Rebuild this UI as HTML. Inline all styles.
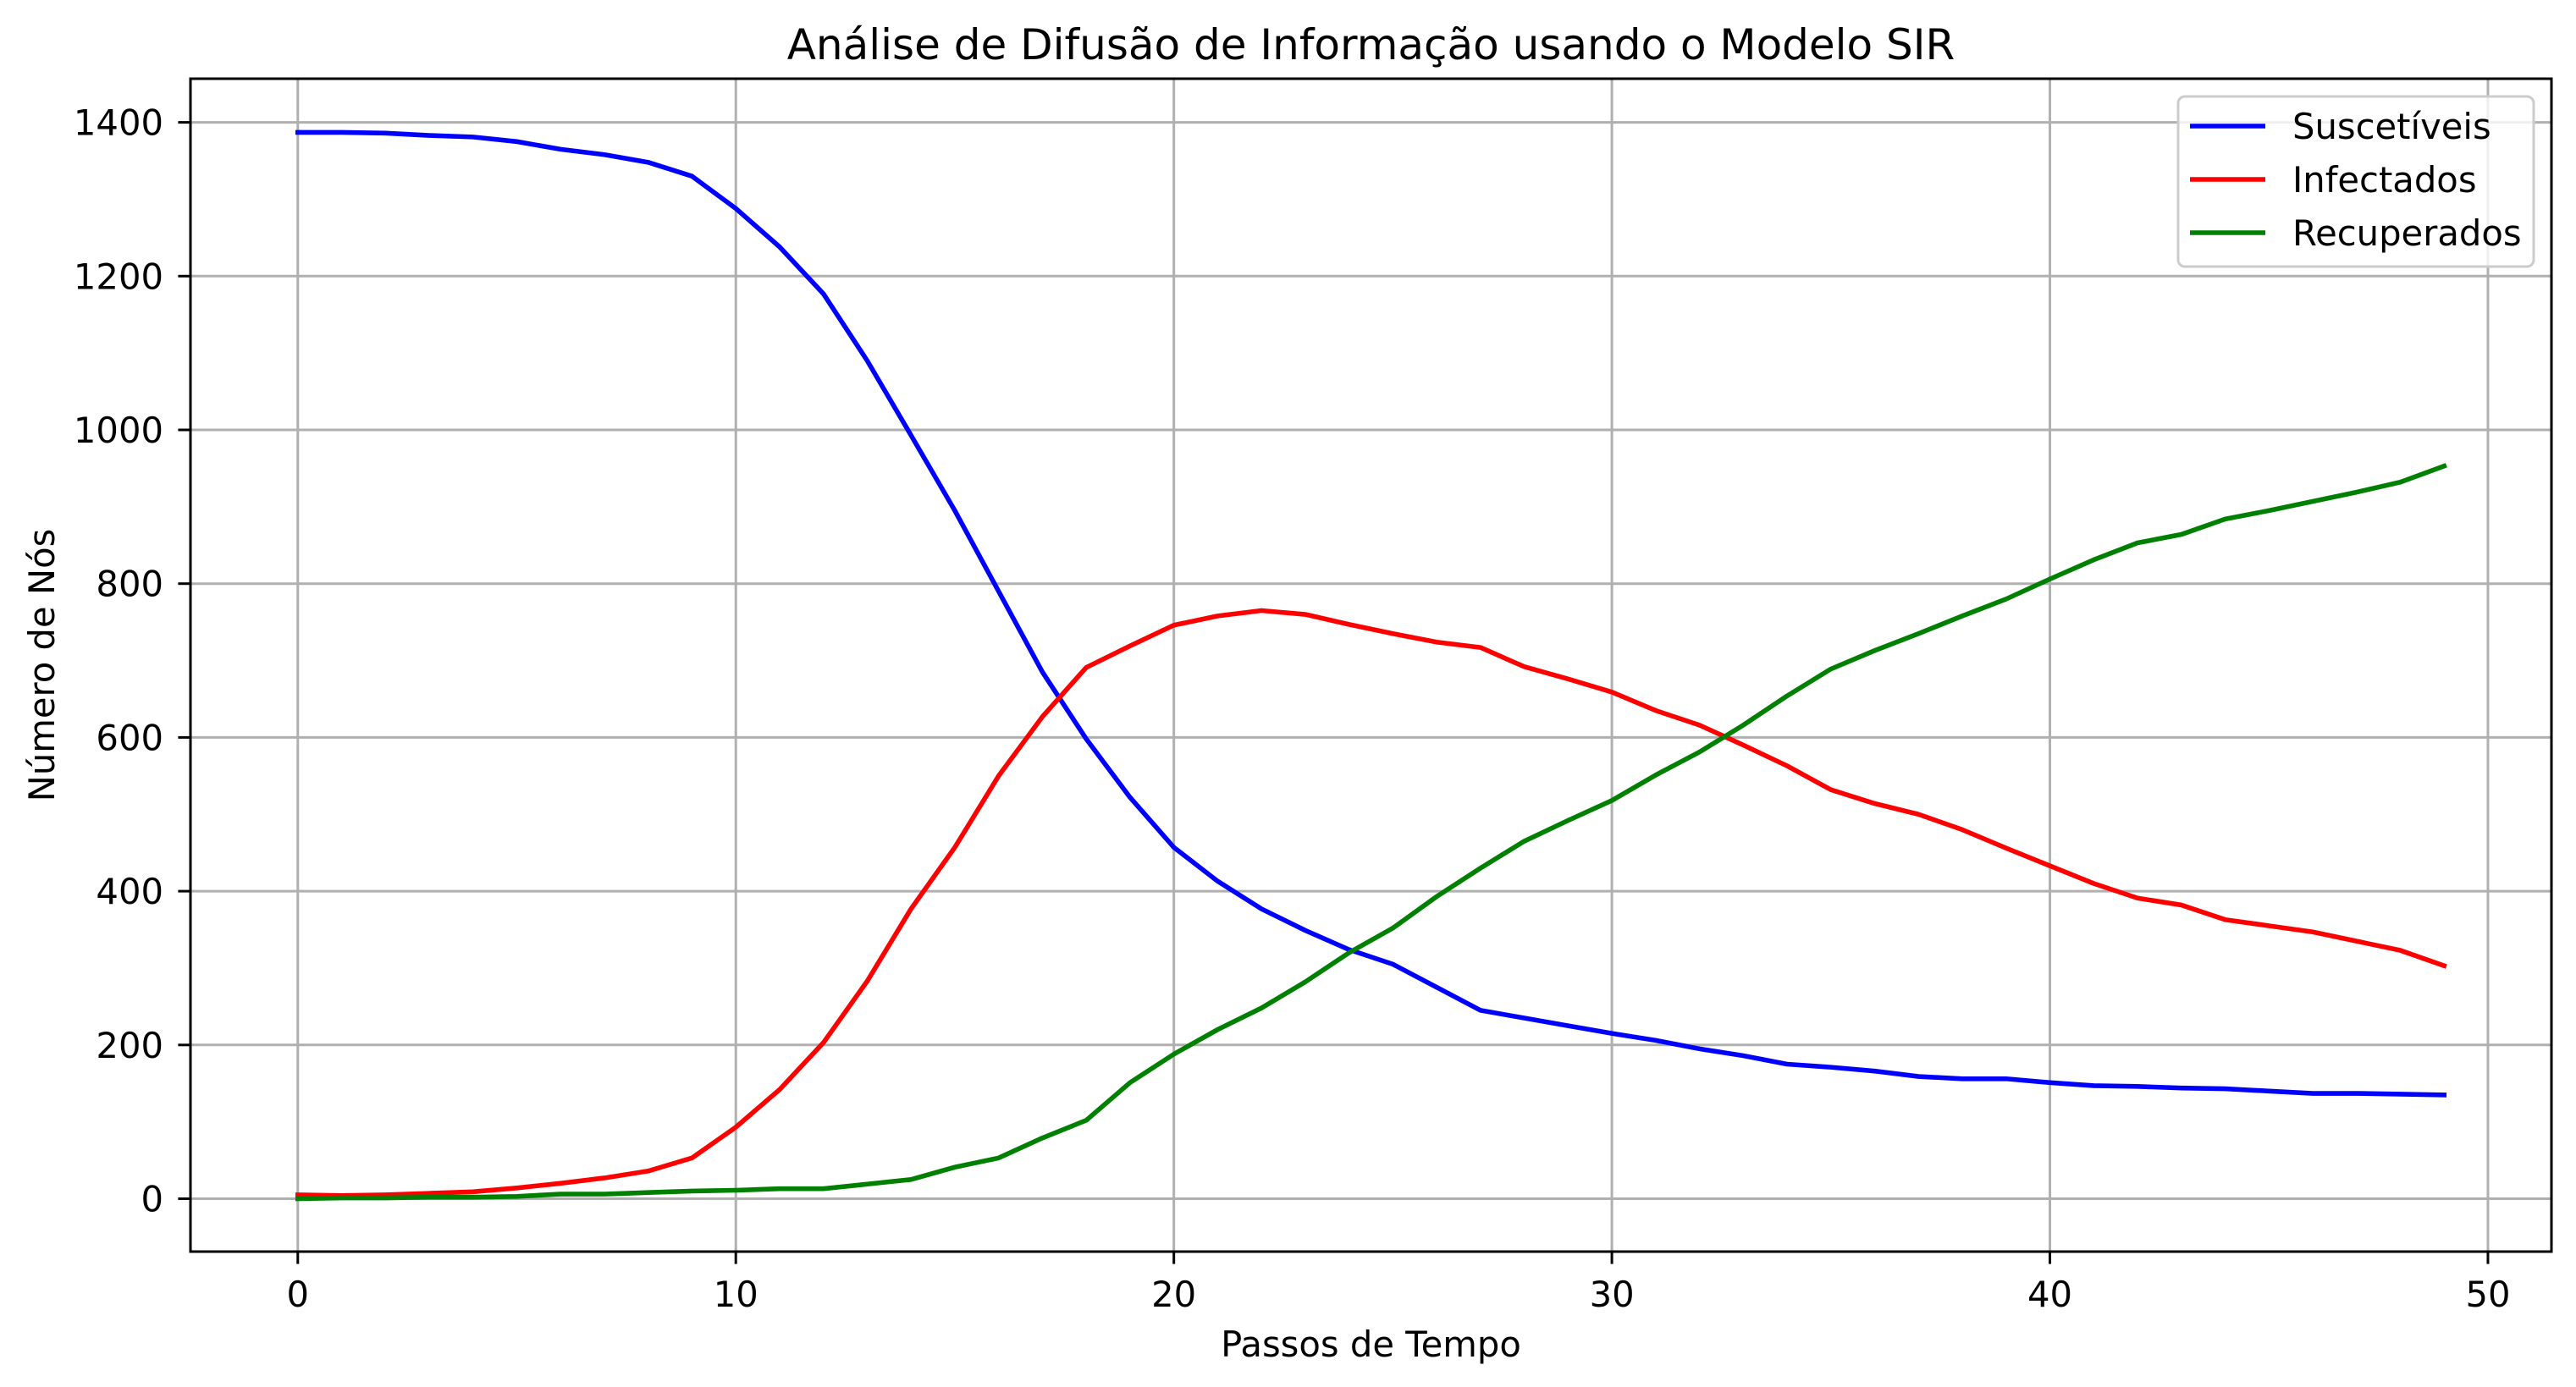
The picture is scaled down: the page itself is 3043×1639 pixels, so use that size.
<!DOCTYPE html>
<html><head><meta charset="utf-8"><style>
html,body{margin:0;padding:0;background:#fff}
svg{display:block}
text{font-family:"DejaVu Sans","Liberation Sans",sans-serif;fill:#000}
</style></head><body>
<svg id="chart" width="3043" height="1639" viewBox="0 0 3043 1639" xmlns="http://www.w3.org/2000/svg">
<rect width="3043" height="1639" fill="#fff"/>
<g id="grid"></g><g id="series"></g><g id="axes"></g><g id="legend"></g>
</svg>
<script>
const steps = Array.from({length:50},(_,i)=>i);
const suscetiveis = [1387,1387,1386,1383,1381,1375,1365,1358,1348,1330,1288,1238,1177,1090,993,895,790,685,598,522,457,413,377,349,324,305,275,245,235,225,215,206,195,186,175,171,166,159,156,156,151,147,146,144,143,140,137,137,136,135];
const infectados = [5,4,5,7,9,14,20,27,36,53,93,142,203,283,377,457,550,627,691,719,746,758,765,760,747,735,724,717,692,676,659,635,616,590,563,532,514,500,480,456,433,410,391,382,363,355,347,335,323,303];
const recuperados = [0,1,1,2,2,3,6,6,8,10,11,13,13,19,25,41,53,79,102,151,188,220,248,282,320,352,393,430,465,492,518,551,581,616,654,689,713,735,758,780,806,831,853,864,884,895,907,919,932,953];
const xTicks = [0,10,20,30,40,50];
const yTicks = [0,200,400,600,800,1000,1200,1400];
const seriesNames = ["Suscetíveis","Infectados","Recuperados"];

const L=225,R=3014,T=93,B=1479;
const xMin=-2.45,xMax=51.45,yMin=-68.8,yMax=1456.8;
const FS=41.7;
const sx=v=>L+(v-xMin)/(xMax-xMin)*(R-L);
const sy=v=>B-(v-yMin)/(yMax-yMin)*(B-T);
const NS="http://www.w3.org/2000/svg";
function mk(tag,attrs,parent){const e=document.createElementNS(NS,tag);for(const k in attrs)e.setAttribute(k,attrs[k]);parent.appendChild(e);return e;}
const grid=document.getElementById('grid'),axes=document.getElementById('axes'),ser=document.getElementById('series'),leg=document.getElementById('legend');

xTicks.forEach(t=>{
  const x=sx(t);
  const g=mk('line',{x1:x,x2:x,y1:T,y2:B,stroke:'#b0b0b0','stroke-width':3},grid);
  
  
  const tk=mk('line',{x1:x,x2:x,y1:B,y2:B+14.6,stroke:'#000','stroke-width':3},axes);
  
  
  const tx=mk('text',{x:x,y:B+65,'font-size':FS,'text-anchor':'middle'},axes);
  tx.textContent=t;
  
  
});
yTicks.forEach(t=>{
  const y=sy(t);
  const g=mk('line',{x1:L,x2:R,y1:y,y2:y,stroke:'#b0b0b0','stroke-width':3},grid);
  
  
  const tk=mk('line',{x1:L-14.6,x2:L,y1:y,y2:y,stroke:'#000','stroke-width':3},axes);
  
  
  const tx=mk('text',{x:L-32,y:y+15,'font-size':FS,'text-anchor':'end'},axes);
  tx.textContent=t;
  
  
});

const colors=['#0000ff','#ff0000','#008000'];
[suscetiveis,infectados,recuperados].forEach((d,i)=>{
  const p=mk('polyline',{points:d.map((v,j)=>sx(steps[j])+','+sy(v)).join(' '),fill:'none',stroke:colors[i],'stroke-width':5.6,'stroke-linejoin':'round','stroke-linecap':'square'},ser);
  
  
});

const frame=mk('rect',{x:L,y:T,width:R-L,height:B-T,fill:'none',stroke:'#000','stroke-width':3},axes);



const title=mk('text',{x:(L+R)/2,y:70,'font-size':50,'text-anchor':'middle'},axes);
title.textContent='Análise de Difusão de Informação usando o Modelo SIR';


const xl=mk('text',{x:(L+R)/2,y:1603,'font-size':FS,'text-anchor':'middle'},axes);
xl.textContent='Passos de Tempo';


const yl=mk('text',{x:0,y:0,'font-size':FS,'text-anchor':'middle',transform:'translate(64,'+((T+B)/2)+') rotate(-90)'},axes);
yl.textContent='Número de Nós';



const box=mk('rect',{x:2573,y:114,width:420,height:201,rx:8,fill:'#fff','fill-opacity':0.8,stroke:'#cccccc','stroke-width':3},leg);


const rows=[149,212,275];
seriesNames.forEach((n,i)=>{
  const ln=mk('line',{x1:2587,x2:2676,y1:rows[i],y2:rows[i],stroke:colors[i],'stroke-width':5.6},leg);
  
  
  const t=mk('text',{x:2708,y:rows[i]+15,'font-size':FS},leg);
  t.textContent=n;
  
  
});
</script>
</body></html>
